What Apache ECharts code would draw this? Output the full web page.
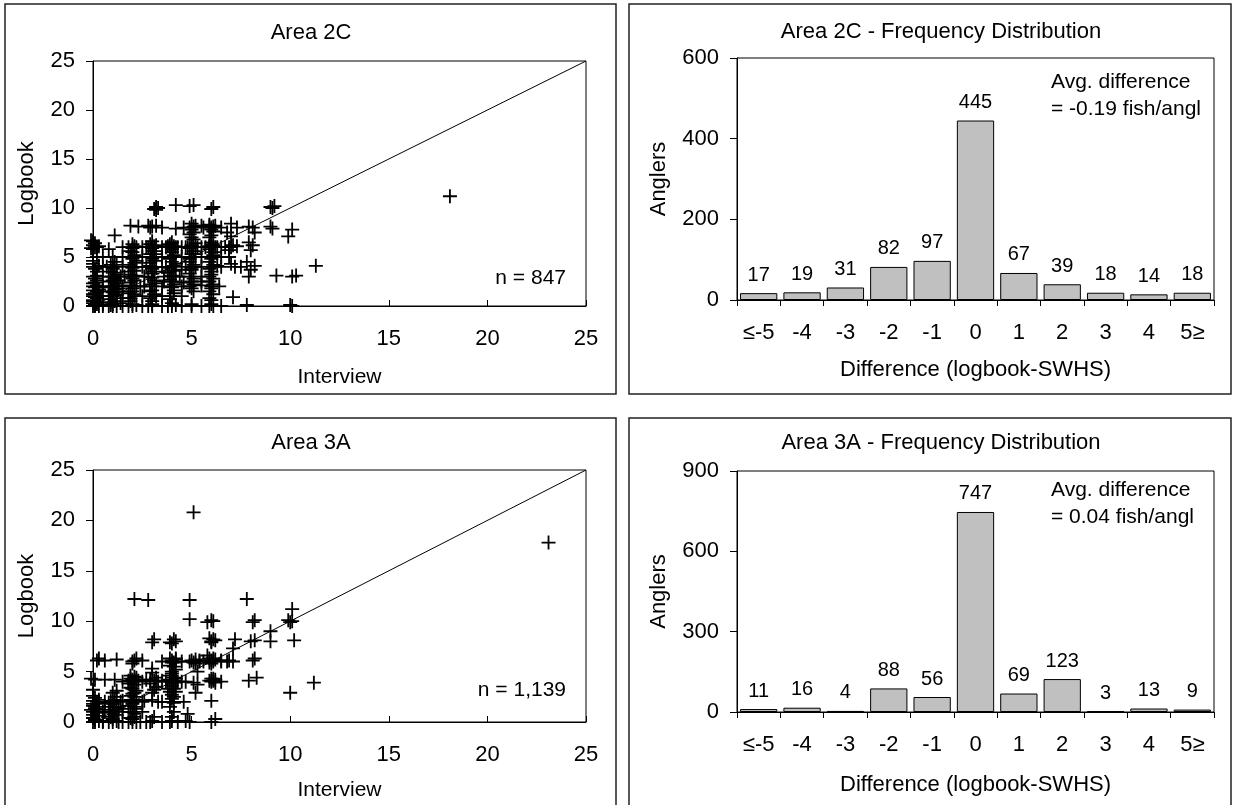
<!DOCTYPE html>
<html>
<head>
<meta charset="utf-8">
<script src="https://cdn.jsdelivr.net/npm/echarts@6/dist/echarts.min.js"></script>
<style>
html,body{margin:0;padding:0;background:#fff;}
#c{width:1238px;height:805px;}
</style>
</head>
<body>
<div id="c"></div>
<script>
// ---------- DATA ----------
const diffCategories = ['≤-5','-4','-3','-2','-1','0','1','2','3','4','5≥'];
const freq2C = [17,19,31,82,97,445,67,39,18,14,18];
const freq3A = [11,16,4,88,56,747,69,123,3,13,9];
const refLine = [[0,0],[25,25]];

const scatter2C = [
 [0,0],[0.1,0],[0.3,0],[0,0.3],[0.2,0.2],[0,0.6],[0.2,0.8],[0,1],[0.3,1],[0.1,1.3],[0,1.6],[0.3,1.7],[0,2],[0.2,2.1],[0.1,2.4],[0,3],[0.2,3.1],[0,4],[0.3,4.1],[0,4.3],[0,5.8],[0.2,6],[0,6.2],[0.1,6.4],[-0.1,6.7],[0.8,5.8],[0.5,4],[0.4,1],[0.5,0.2],
 [0.1,0.1],[0,0.5],[0.2,0.4],[0.1,0.9],[0,1.2],[0.2,1.5],[0.1,1.9],[0,2.3],[0.2,2.6],[0.1,2.8],[0.2,3.5],[0.1,3.8],[0,4.6],[0.2,5],[0.1,6],[0,6.6],[-0.1,5.9],[0.3,6.1],
 [0.8,0],[1,0],[1.2,0],[0.9,0.4],[1.1,0.5],[0.8,1],[1,1],[1.2,1.1],[0.9,1.5],[1.1,1.7],[0.8,2],[1,2],[1.2,2.1],[0.9,2.5],[1.1,2.8],[1,3],[1.2,3.2],[0.9,3.5],[1,4],[1.2,4.2],[1.1,7.2],[1.4,3],[1.5,1.5],[1.4,0.3],
 [1,0.2],[0.9,0.7],[1.1,1.2],[1,1.4],[0.9,1.9],[1.2,2.3],[1,2.6],[0.8,3],[1.1,3.4],[1,3.8],[0.9,4.2],[1.1,4.5],[1,5],[0.9,0.1],[1.3,1.8],[1.3,2.6],
 [1.8,0],[2,0],[2.2,0.1],[1.9,0.5],[2.1,1],[1.8,1.3],[2,1.5],[2.2,2],[1.9,2.4],[2,3],[2.2,3.1],[1.8,3.5],[2,4],[2.1,4.4],[1.9,5],[2,5.5],[2.2,6],[1.8,6],[1.9,8.2],[2.5,6],[2.5,4],[2.4,2],
 [2,0.2],[1.9,0.8],[2.1,1.2],[2,1.8],[1.9,2.1],[2.1,2.6],[2,2.8],[1.9,3.2],[2.1,3.6],[2,3.9],[1.9,4.2],[2.2,4.6],[2,4.8],[2.1,5.2],[1.9,5.6],[2,5.9],[2.1,6.1],[2,6.3],
 [2.8,0],[3,0],[3,0.5],[3.2,1],[2.9,1.5],[3,2],[3.2,2.3],[2.8,3],[3,3.3],[3.2,4],[2.9,4.4],[3,5],[3.2,5.3],[2.8,6],[3,6],[3.2,6.2],[3,6.6],[2.8,8.2],[3,8.1],[3.2,9.8],[3.3,10],[3.5,6],[3.5,4],[3.6,2.5],
 [3,0.2],[2.9,0.8],[3.1,1.2],[3,1.6],[2.9,2.2],[3.1,2.6],[3,2.9],[3.1,3.5],[3,3.8],[2.9,4.1],[3.1,4.6],[3,4.8],[2.9,5.3],[3.1,5.6],[3,5.9],[3.1,6.1],[2.9,6.3],[3.2,8.2],[3.1,9.9],[3.2,10.1],[2.9,8],
 [3.8,0],[4,0],[4.2,0.1],[3.9,1],[4.1,1.3],[3.9,2],[4,2.5],[4.2,3],[3.8,3.4],[4,4],[4.2,4.3],[3.9,5],[4,5.5],[4.2,6],[3.8,6.1],[4.2,7.9],[4.2,10.3],[4.5,6],[4.5,3.7],[4.6,2.4],
 [4,0.3],[3.9,0.7],[4.1,1.6],[4,1.9],[4.1,2.2],[3.9,2.7],[4,3.1],[4.1,3.6],[3.9,3.9],[4.1,4.1],[4,4.5],[3.9,4.8],[4.1,5.2],[4,5.8],[4.1,6.1],[3.9,6.3],[4,6.5],
 [5,0],[5,1.8],[5.1,2.2],[4.9,3],[5,3.7],[5.2,4],[4.9,4.5],[5,5],[5.2,5.3],[4.8,6],[5,6.2],[5.2,6.4],[5,7],[5.1,7.5],[4.9,8],[5.2,8.2],[5.1,10.3],[5.5,6],[5.5,2.5],[5.6,8],
 [5,0.2],[5.1,1.5],[4.9,2],[5,2.5],[5.1,2.8],[4.9,3.3],[5,3.9],[5.1,4.2],[4.9,4.8],[5,5.3],[5.1,5.6],[4.9,5.9],[5,6.1],[5.1,6.8],[4.9,7.3],[5,7.8],[5.1,8.1],[5,8.4],[4.9,10.2],
 [5.9,0],[6.1,0],[6,0.6],[5.9,1.5],[6,2],[6.1,2.8],[5.9,3],[6,3.5],[6.1,4],[5.9,4.5],[6,5],[6.1,5.5],[5.9,5.8],[6,6],[6.1,6.2],[6.2,6],[6,6.5],[5.9,7],[6,7.8],[6.1,8.1],[5.9,8.3],[6,9.9],[6.1,10.1],[6.5,6],[6.5,4],[6.4,2],
 [6,0.2],[5.9,0.8],[6.1,1.2],[6,1.8],[6.1,2.2],[5.9,2.5],[6,3.2],[5.9,3.8],[6.1,4.2],[6,4.8],[6.1,5.2],[5.9,6.1],[6,6.3],[6.1,6],[5.9,6],[6,7.2],[6.1,7.6],[6,8],[5.9,8.1],[6.2,8.2],
 [1.5,6],[2.7,6],[3.7,6],[4.3,6],[4.7,6],[5.3,6],[5.7,6],[6.3,6],[6.7,6],[7,6],[7.3,6.1],
 [0.7,4],[1.5,4],[2.7,4],[3.7,4],[4.7,4],[5.5,4],[6.3,4.1],[7.5,4],
 [0.5,3],[1.6,3],[2.6,3],[3.6,3],[4.4,3],[5.5,3],
 [0.5,2],[1.5,2],[2.6,2],[3.5,2],[4.5,2],[5.5,2.1],
 [0.5,1.5],[1.5,0.8],[2.5,1],[3.5,1],[4.5,1],
 [0.5,0],[1.5,0],[2.5,0],[3.5,0],[4.5,0],[5.5,0],[6.5,0],
 [0.5,5],[1.5,5],[2.5,5],[3.5,5],[4.5,5],[5.5,5],[6.5,5],
 [2.3,8.1],[3.5,8],[4.6,8],[5.5,8.2],[6.5,8],[7.3,8],
 [6.8,7.5],[7,7.1],[7,8.4],[6.9,6],[7.1,6.2],[6.9,5],[7,4.3],[7.2,4],[7.1,0.9],[6.9,5.7],
 [7.8,0.1],[7.9,3],[8,3.7],[8.2,4.1],[7.8,4.5],[8,5.7],[8.1,6.2],[7.9,6.5],[7.9,8.1],[8.1,8],[8.2,7.5],
 [9,10.1],[9.2,10.2],[9.1,10],[9,8.1],[9.1,7.9],[10.1,7.8],[9.9,7.1],[11.3,4.1],[9.3,3.1],[10.1,3],[10.3,3.1],[10,0.1],[10.1,0],[18.1,11.2]
];

const scatter3A = [
 [0,0],[0.1,0],[0.3,0.1],[0,0.4],[0.2,0.6],[0,1],[0.3,1],[0.1,1.3],[0,1.6],[0.2,2],[0,2.1],[0.3,2.2],[0,3.2],[0.1,4.2],[-0.1,4.3],[0.2,6.1],[0.3,6.3],[0.5,1],[0.5,0.1],
 [0.1,0.2],[0,0.7],[0.2,0.9],[0.1,1.5],[0,1.8],[0.2,1.2],[0.1,2.4],[0,2.6],[0.3,1.8],[-0.1,1.2],
 [0.8,0],[1,0],[1.2,0.1],[0.9,0.5],[1,1],[1.2,1.2],[0.8,1.5],[1,2],[1.1,2.2],[1,2.9],[1.2,3.1],[1.1,4.2],[1.2,6.2],[1.5,1],[1.4,2],[1.5,0],
 [1,0.3],[1.1,0.7],[0.9,1.2],[1.1,1.5],[1,1.8],[0.9,2.1],[1.2,2.5],[1,0.9],[0.8,1.9],[1.3,1.5],
 [1.8,0],[2,0],[2.2,0],[1.9,0.4],[2.1,0.8],[2,1],[2.2,1.3],[1.8,1.6],[2,2],[2.2,2.2],[1.9,2.6],[2.1,2.9],[2,3.3],[1.8,3.8],[2,4],[2.2,4.2],[2.1,4.5],[1.9,4.3],[2,5.8],[2.1,6.1],[2.2,6.3],[2.1,12.2],[2.5,4],[2.5,2],[2.4,0],
 [2,0.3],[2.1,0.5],[1.9,1],[2.1,1.5],[2,1.8],[1.9,2.2],[2.1,2.5],[2,2.8],[2.2,3.1],[1.9,3.4],[2.1,3.7],[2,4.1],[2.2,4.4],[1.9,4.6],[2,4.2],[2.3,4.1],[1.8,4.1],[2,6],
 [2.9,0],[3.1,0.5],[3,2.9],[3.1,3.2],[2.9,4.2],[3,4.9],[3,5.3],[3,7.9],[3.1,8.2],[2.8,12.1],[3.3,4],[3.5,2],
 [3,0.1],[3,2.2],[3.2,3.5],[2.9,3.8],[3.1,4.1],[3.2,4.4],
 [3.9,0],[4,0.1],[4.1,1],[3.9,2],[4,2.3],[4.1,2.5],[4.2,3],[3.8,3.3],[4,3.9],[4.1,4.1],[4.2,4.3],[3.9,4.6],[4,5],[4.1,5.5],[4,5.9],[4.2,6.2],[3.9,6.3],[4,7.8],[4.1,8.2],[4.5,4],[4.5,6],[4.6,2],
 [4,0.5],[3.9,1.5],[4.1,1.9],[4,2.7],[3.9,3],[4.1,3.3],[4,3.6],[4.2,3.9],[3.9,4.2],[4.1,4.4],[4,4.8],[4.2,5.2],[3.9,5.6],[4.1,5.9],[4,6.1],[4.2,6.3],[3.9,7.9],[4.2,8],[4.3,4],[3.7,4],
 [4.8,0.8],[4.9,0],[5.1,3.9],[5.3,3.7],[5.2,2.9],[5.3,5],[5.1,5.9],[5.2,6.2],[4.9,6],[4.9,10.2],[4.9,12.1],[5.1,20.8],[5.6,6],
 [5,6.1],[5.2,5.8],[5.4,6],
 [6,0],[6.2,0.3],[6,2.1],[6.1,4.1],[6,4.3],[6.2,4.2],[5.9,5.9],[6,6.1],[6.1,6.3],[5.8,6.6],[6,7.9],[6.1,8.2],[5.9,8.3],[5.8,9.9],[6,10.1],[6.5,6],[6.5,4],
 [6,4],[6.1,4.3],[5.9,4.1],[6.2,3.9],[6,5.8],[6.1,6],[6.2,6.2],[5.9,6.3],[6,8],[6.2,8.1],[6.1,10],
 [0.5,0],[1.3,0],[2.7,0],[3.5,0],[4.3,0],[4.7,0.1],
 [0.6,1],[1.5,1.3],[2.5,1],
 [0.6,2],[1.5,2.1],[2.6,2.1],[3.3,2],
 [0.6,4.2],[1.5,4],[2.7,4.2],[3.5,4.1],[4.7,4],
 [0.6,6.1],[2.5,6.1],[3.5,6],[5.4,6.1],[6.5,6.1],[6.8,6],
 [6.9,6.1],[7.1,7.3],[7.2,8.2],[7.1,6],[7.8,12.2],[7.9,4.1],[8.3,4.4],[8.1,6.1],[8.2,6.3],[8,8],[8.2,8.1],[8.1,9.9],[8.2,10.1],[9,8],[9,9],[10,9.9],[9.9,10.1],[10.1,10],[10.1,11.2],[10.2,8.1],[10,2.9],[11.2,3.9],[23.1,17.8]
];

// ---------- CHART ----------
const FONT = '"Liberation Sans", Arial, sans-serif';
const crossPath = 'path://M4.35,0 H5.65 V4.35 H10 V5.65 H5.65 V10 H4.35 V5.65 H0 V4.35 H4.35 Z';

const chart = echarts.init(document.getElementById('c'), null, {renderer:'canvas'});

const grids = [
  {left:93, top:61, width:493, height:245},
  {left:737, top:58, width:477, height:242},
  {left:93, top:470, width:493, height:252},
  {left:737, top:471, width:477, height:241}
].map(g => Object.assign(g, {show:true, borderColor:'#000', borderWidth:1, backgroundColor:'transparent'}));

function valueXAxis(idx, gap){
  return {
    gridIndex: idx, type:'value', min:0, max:25, interval:5,
    name:'Interview', nameLocation:'middle', nameGap:gap,
    nameTextStyle:{fontFamily:FONT, fontSize:21, color:'#000'},
    axisLine:{show:true, lineStyle:{color:'#000', width:1}},
    axisTick:{show:true, inside:true, length:6, lineStyle:{color:'#000'}},
    axisLabel:{fontFamily:FONT, fontSize:22, color:'#000', margin:22},
    splitLine:{show:false}
  };
}
function valueYAxis(idx, max, interval, name, gap){
  return {
    gridIndex: idx, type:'value', min:0, max:max, interval:interval,
    name:name, nameLocation:'middle', nameGap:gap,
    nameTextStyle:{fontFamily:FONT, fontSize:22, color:'#000'},
    axisLine:{show:true, lineStyle:{color:'#000', width:1}},
    axisTick:{show:true, inside:false, length:7, lineStyle:{color:'#000'}},
    axisLabel:{fontFamily:FONT, fontSize:22, color:'#000', margin:18},
    splitLine:{show:false}
  };
}
function catXAxis(idx, gap){
  return {
    gridIndex: idx, type:'category', data: diffCategories, boundaryGap:true,
    name:'Difference (logbook-SWHS)', nameLocation:'middle', nameGap:gap,
    nameTextStyle:{fontFamily:FONT, fontSize:22, color:'#000'},
    axisLine:{show:true, lineStyle:{color:'#000', width:1}},
    axisTick:{show:true, inside:false, length:6, alignWithLabel:false, lineStyle:{color:'#000'}},
    axisLabel:{fontFamily:FONT, fontSize:22, color:'#000', margin:22, interval:0},
    splitLine:{show:false}
  };
}

function scatterSeries(idx, data){
  return {
    type:'scatter', xAxisIndex:idx, yAxisIndex:idx, data:data,
    symbol: crossPath, symbolSize:14, clip:false,
    itemStyle:{color:'#000', opacity:1},
    silent:true, z:3
  };
}
function lineSeries(idx){
  return {
    type:'line', xAxisIndex:idx, yAxisIndex:idx, data:refLine,
    symbol:'none', lineStyle:{color:'#000', width:1}, silent:true, z:2
  };
}
function barSeries(idx, data){
  return {
    type:'bar', xAxisIndex:idx, yAxisIndex:idx, data:data,
    barCategoryGap:'14%',
    itemStyle:{color:'#c0c0c0', borderColor:'#000', borderWidth:1},
    label:{show:true, position:'top', distance:8, fontFamily:FONT, fontSize:20, color:'#000'},
    silent:true
  };
}

function txt(x, y, text, align, size){
  return {type:'text', x:x, y:y, silent:true, z:100,
    style:{text:text, fill:'#000', font: (size||22)+'px ' + FONT, align:align||'center', verticalAlign:'middle', lineHeight:27}};
}
function box(x, y, w, h){
  return {type:'rect', silent:true, z:0, shape:{x:x, y:y, width:w, height:h},
    style:{fill:'none', stroke:'#222', lineWidth:1.5}};
}

const option = {
  backgroundColor:'#fff',
  animation:false,
  grid: grids,
  xAxis: [valueXAxis(0, 61), catXAxis(1, 59), valueXAxis(2, 58), catXAxis(3, 62)],
  yAxis: [
    valueYAxis(0, 25, 5, 'Logbook', 55),
    valueYAxis(1, 600, 200, 'Anglers', 67),
    valueYAxis(2, 25, 5, 'Logbook', 55),
    valueYAxis(3, 900, 300, 'Anglers', 67)
  ],
  series: [
    lineSeries(0), scatterSeries(0, scatter2C),
    barSeries(1, freq2C),
    lineSeries(2), scatterSeries(2, scatter3A),
    barSeries(3, freq3A)
  ],
  graphic: [
    box(5, 4, 611, 390), box(629, 4, 602, 390),
    box(5, 418, 611, 400), box(629, 418, 602, 400),
    txt(311, 33, 'Area 2C'),
    txt(941, 32, 'Area 2C - Frequency Distribution'),
    txt(311, 443, 'Area 3A'),
    txt(941, 443, 'Area 3A - Frequency Distribution'),
    txt(566, 278, 'n = 847', 'right', 21),
    txt(566, 690, 'n = 1,139', 'right', 21),
    txt(1051, 96, 'Avg. difference\n= -0.19 fish/angl', 'left', 21),
    txt(1051, 504, 'Avg. difference\n= 0.04 fish/angl', 'left', 21)
  ]
};
chart.setOption(option);
</script>
</body>
</html>
